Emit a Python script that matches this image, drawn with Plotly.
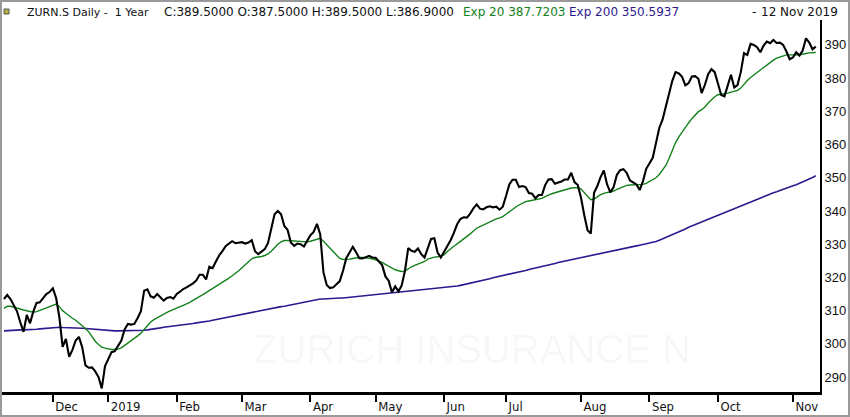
import pandas as pd
import plotly.graph_objects as go

# SIX trading calendar, Nov 2018 - Nov 2019
START = "2018-11-12"
END = "2019-11-12"
HOLIDAYS = [
    "2018-12-24", "2018-12-25", "2018-12-26", "2018-12-31", "2019-01-01",
    "2019-01-02", "2019-04-19", "2019-04-22", "2019-05-01", "2019-05-30",
    "2019-06-10", "2019-08-01",
]

close = [
    313.5, 314.7, 313.5, 311.5, 309.8, 306.5, 303.6, 308.7, 306.2, 309.7,
    312.3, 312.5, 313.8, 315.0, 315.6, 316.7, 313.8, 308.0, 299.1, 301.5,
    296.1, 298.2, 301.0, 302.1, 299.0, 293.5, 292.8, 292.9, 291.7, 290.0,
    286.6, 293.3, 295.4, 297.5, 297.8, 299.4, 301.0, 304.3, 306.0, 305.8,
    306.0, 307.8, 309.8, 316.0, 316.4, 314.3, 313.9, 315.0, 314.0, 313.0,
    313.8, 314.1, 313.6, 315.0, 315.7, 316.5, 317.0, 317.6, 318.2, 319.1,
    320.8, 320.8, 319.4, 323.2, 322.8, 324.8, 326.6, 327.9, 329.4, 330.2,
    330.9, 330.3, 330.5, 330.6, 330.2, 330.5, 331.2, 327.9, 327.0, 327.9,
    328.5, 330.4, 334.5, 339.0, 340.0, 339.0, 335.5, 334.3, 330.5, 329.5,
    330.2, 330.0, 329.3, 330.9, 332.7, 333.7, 336.1, 333.0, 321.5, 317.7,
    316.8, 317.0, 318.1, 318.9, 322.0, 325.8, 327.5, 329.2, 327.6, 325.8,
    325.7, 326.2, 326.5, 326.0, 325.9, 324.8, 323.7, 320.3, 319.0, 315.5,
    317.3, 315.8, 317.6, 322.0, 328.8, 328.0, 327.7, 328.7, 327.0, 326.0,
    328.8, 331.6, 331.8, 327.5, 326.0, 327.7, 329.4, 331.2, 333.4, 336.0,
    337.6, 338.1, 338.0, 339.2, 340.8, 342.0, 340.7, 340.5, 341.1, 341.4,
    341.1, 341.3, 340.4, 341.3, 344.5, 348.0, 349.4, 349.4, 347.2, 347.5,
    347.2, 345.4, 345.2, 343.8, 344.8, 344.8, 347.8, 349.5, 349.6, 348.2,
    348.6, 348.9, 349.5, 349.5, 351.5, 348.7, 347.8, 344.0, 338.7, 334.2,
    333.2, 345.5, 347.5, 350.2, 352.2, 348.0, 345.6, 347.2, 350.9, 352.3,
    352.6, 351.5, 349.2, 348.5, 348.0, 346.3, 349.0, 352.7, 354.3, 356.0,
    360.5, 365.0, 367.5, 371.4, 375.3, 379.2, 381.8, 381.4, 380.4, 377.8,
    378.5, 380.5, 380.6, 379.8, 375.5, 378.0, 381.2, 382.7, 381.8, 378.7,
    374.9, 374.5, 377.4, 381.0, 377.2, 377.9, 381.8, 387.5, 387.0, 390.3,
    390.0, 389.3, 387.8, 389.8, 391.0, 390.5, 391.5, 390.6, 390.7, 390.0,
    388.0, 385.7, 386.2, 387.8, 386.8, 388.3, 392.0, 390.7, 388.7, 389.5,
]

exp20 = [
    310.7, 311.3, 311.3, 311.1, 310.8, 310.5, 310.2, 309.9, 309.6, 309.5,
    309.7, 310.0, 310.4, 310.8, 311.2, 311.6, 312.0, 311.2, 310.0, 309.2,
    308.3, 307.7, 307.1, 306.3, 305.5, 304.6, 303.6, 302.2, 300.8, 299.8,
    299.0, 298.7, 298.4, 298.3, 298.3, 298.4, 298.8, 299.5, 300.1, 300.9,
    301.6, 302.4, 303.2, 304.4, 305.6, 306.6, 307.3, 307.9, 308.5, 309.0,
    309.5, 309.9, 310.4, 310.8, 311.2, 311.6, 312.0, 312.5, 313.1, 313.6,
    314.2, 314.8, 315.4, 316.0, 316.6, 317.2, 317.8, 318.4, 319.1, 319.8,
    320.5, 321.2, 322.0, 322.9, 323.9, 324.9, 325.6, 326.0, 326.1, 326.3,
    326.6, 327.1, 327.9, 329.0, 330.0, 330.7, 331.1, 331.1, 331.0, 330.9,
    330.8, 330.7, 330.7, 330.7, 330.9, 331.2, 331.6, 331.8, 330.9, 329.8,
    328.8, 327.7, 326.6, 325.7, 325.4, 325.4, 325.5, 325.7, 325.9, 326.0,
    326.0, 325.9, 325.8, 325.6, 325.3, 325.0, 324.5, 323.9, 323.3, 322.8,
    322.3, 322.0, 321.8, 321.9, 322.6, 323.2, 323.6, 324.0, 324.4, 324.8,
    325.5, 325.9, 326.1, 326.2, 326.4, 326.8, 327.8, 328.7, 329.4, 330.1,
    330.8, 331.5, 332.3, 333.1, 334.0, 334.8, 335.3, 335.8, 336.3, 336.8,
    337.2, 337.6, 337.9, 338.3, 339.0, 339.8, 340.6, 341.2, 341.8, 342.4,
    342.8, 343.0, 343.2, 343.3, 343.5, 343.8, 344.3, 344.8, 345.2, 345.5,
    345.8, 346.0, 346.3, 346.6, 346.9, 347.0, 347.0, 346.6, 345.6, 344.4,
    343.4, 343.6, 344.3, 344.9, 345.3, 345.5, 345.7, 346.0, 346.5, 346.9,
    347.3, 347.7, 347.8, 347.8, 347.8, 347.9, 348.0, 348.3, 348.8, 349.4,
    350.0, 351.0, 352.2, 353.7, 355.8, 358.2, 360.6, 362.3, 363.8, 365.3,
    366.5, 367.8, 369.0, 369.9, 370.5, 371.3, 372.5, 373.5, 374.4, 375.0,
    375.1, 375.3, 375.5, 375.8, 376.1, 376.3, 377.0, 378.3, 379.3, 380.2,
    381.0, 381.8, 382.5, 383.2, 383.9, 384.7, 385.4, 386.0, 386.4, 386.7,
    387.0, 387.0, 386.9, 387.0, 387.0, 387.1, 387.4, 387.6, 387.7, 387.7,
]

exp200 = [
    303.9, 304.0, 304.0, 304.1, 304.1, 304.2, 304.2, 304.2, 304.3, 304.3,
    304.4, 304.5, 304.6, 304.7, 304.8, 304.9, 305.0, 305.0, 304.9, 304.9,
    304.9, 304.8, 304.8, 304.7, 304.7, 304.6, 304.5, 304.4, 304.3, 304.2,
    304.1, 304.0, 303.9, 303.9, 303.9, 303.9, 303.9, 303.9, 303.9, 303.9,
    303.9, 304.0, 304.0, 304.1, 304.2, 304.3, 304.5, 304.7, 304.8, 305.0,
    305.1, 305.3, 305.4, 305.5, 305.6, 305.7, 305.8, 306.0, 306.1, 306.3,
    306.4, 306.6, 306.7, 306.9, 307.1, 307.3, 307.5, 307.7, 307.9, 308.1,
    308.3, 308.5, 308.7, 308.9, 309.1, 309.3, 309.5, 309.7, 309.9, 310.1,
    310.3, 310.5, 310.7, 310.9, 311.0, 311.2, 311.3, 311.5, 311.7, 311.9,
    312.2, 312.4, 312.6, 312.8, 313.0, 313.1, 313.3, 313.5, 313.5, 313.6,
    313.6, 313.7, 313.7, 313.8, 313.8, 313.9, 314.0, 314.1, 314.2, 314.3,
    314.4, 314.5, 314.6, 314.7, 314.8, 314.9, 315.0, 315.1, 315.2, 315.3,
    315.4, 315.5, 315.6, 315.7, 315.8, 315.8, 315.9, 316.0, 316.1, 316.2,
    316.3, 316.4, 316.5, 316.6, 316.7, 316.8, 316.9, 317.0, 317.2, 317.4,
    317.6, 317.8, 318.1, 318.3, 318.5, 318.7, 318.9, 319.2, 319.4, 319.6,
    319.9, 320.1, 320.3, 320.6, 320.8, 321.0, 321.2, 321.5, 321.7, 321.9,
    322.1, 322.4, 322.6, 322.8, 323.0, 323.3, 323.5, 323.7, 324.0, 324.2,
    324.5, 324.7, 325.0, 325.2, 325.4, 325.6, 325.8, 326.1, 326.3, 326.5,
    326.7, 326.9, 327.1, 327.2, 327.4, 327.6, 327.8, 328.0, 328.2, 328.4,
    328.6, 328.8, 329.0, 329.3, 329.5, 329.7, 329.9, 330.1, 330.4, 330.6,
    330.8, 331.2, 331.6, 332.0, 332.5, 332.9, 333.3, 333.7, 334.2, 334.6,
    335.1, 335.5, 335.9, 336.4, 336.8, 337.3, 337.7, 338.1, 338.5, 338.9,
    339.2, 339.6, 340.0, 340.4, 340.8, 341.2, 341.6, 342.0, 342.4, 342.8,
    343.2, 343.6, 344.0, 344.4, 344.8, 345.1, 345.5, 345.8, 346.2, 346.5,
    346.9, 347.2, 347.6, 347.9, 348.3, 348.8, 349.2, 349.7, 350.1, 350.6,
]

tick_dates = [
    "2018-12-03", "2019-01-03", "2019-02-01", "2019-03-01", "2019-04-01",
    "2019-05-02", "2019-06-03", "2019-07-01", "2019-08-02", "2019-09-02",
    "2019-10-01", "2019-11-01",
]
tick_labels = ["Dec", "2019", "Feb", "Mar", "Apr", "May", "Jun", "Jul",
               "Aug", "Sep", "Oct", "Nov"]
y_ticks = [290, 300, 310, 320, 330, 340, 350, 360, 370, 380, 390]

dates = pd.bdate_range(START, END)
dates = dates[~dates.isin(pd.to_datetime(HOLIDAYS))]
x = dates.strftime("%Y-%m-%d").tolist()

GREEN = "#13801a"
PURPLE = "#2f1890"

fig = go.Figure()
fig.add_trace(go.Scatter(x=x, y=exp200, mode="lines",
                         line=dict(color=PURPLE, width=1.6)))
fig.add_trace(go.Scatter(x=x, y=exp20, mode="lines",
                         line=dict(color=GREEN, width=1.4)))
fig.add_trace(go.Scatter(x=x, y=close, mode="lines",
                         line=dict(color="black", width=2.1)))

# plot area in pixels: x 2..820, y 20..392
def px_x(p):
    return (p - 2) / 818

def px_y(p):
    return (392 - p) / 372

FONT = "DejaVu Sans, Verdana, sans-serif"
headers = [
    (25, "ZURN.S Daily -&nbsp; 1 Year", "#111111", "left", 11),
    (162, "C:389.5000 O:387.5000 H:389.5000 L:386.9000", "#111111", "left", 12),
    (461, "Exp 20 387.7203", GREEN, "left", 12),
    (567, "Exp 200 350.5937", PURPLE, "left", 12),
    (750, "-", "#111111", "left", 12),
    (840, "12 Nov 2019", "#111111", "right", 12),
]
annotations = []
for xp, txt, col, anchor, size in headers:
    annotations.append(dict(
        x=px_x(xp), y=px_y(12), xref="paper", yref="paper", text=txt,
        showarrow=False, xanchor=anchor, yanchor="middle",
        font=dict(color=col, family=FONT, size=size)))

annotations.append(dict(
    x=px_x(472), y=px_y(349), xref="paper", yref="paper",
    text="ZURICH INSURANCE N", showarrow=False, xanchor="center",
    yanchor="middle",
    font=dict(family="Liberation Sans, Arial, sans-serif", size=40,
              color="rgba(0,0,0,0.035)")))

fig.update_layout(
    width=850,
    height=417,
    margin=dict(l=2, r=30, t=20, b=25),
    paper_bgcolor="white",
    plot_bgcolor="white",
    showlegend=False,
    hovermode=False,
    annotations=annotations,
    shapes=[
        dict(type="rect", xref="paper", yref="paper",
             x0=px_x(1), x1=px_x(849), y0=px_y(416), y1=px_y(1),
             line=dict(color="#9a9a9a", width=2)),
        dict(type="rect", xref="paper", yref="paper",
             x0=px_x(4), x1=px_x(9), y0=px_y(14), y1=px_y(9),
             fillcolor="#b8b040", line=dict(color="#555", width=1)),
    ],
)

fig.update_xaxes(
    type="category",
    range=[-0.6, 250.3],
    tickvals=tick_dates,
    ticktext=tick_labels,
    ticks="outside",
    ticklen=7,
    tickwidth=2,
    tickcolor="black",
    ticklabelposition="outside right",
    tickfont=dict(family="Liberation Sans Narrow, DejaVu Sans Condensed, sans-serif",
                  size=13, color="#111"),
    showline=True,
    linecolor="black",
    linewidth=3,
    showgrid=False,
    zeroline=False,
)
fig.update_yaxes(
    side="right",
    range=[285.5, 397.5],
    tickvals=y_ticks,
    ticks="",
    tickfont=dict(family="Liberation Sans, Arial, sans-serif", size=13,
                  color="#111"),
    showline=True,
    linecolor="black",
    linewidth=2,
    showgrid=False,
    zeroline=False,
)

# the page opens with the browser's default 8px body margin; drop it
fig.write_html("out.html", config={"displayModeBar": False},
               post_script="document.body.style.margin='0';")
